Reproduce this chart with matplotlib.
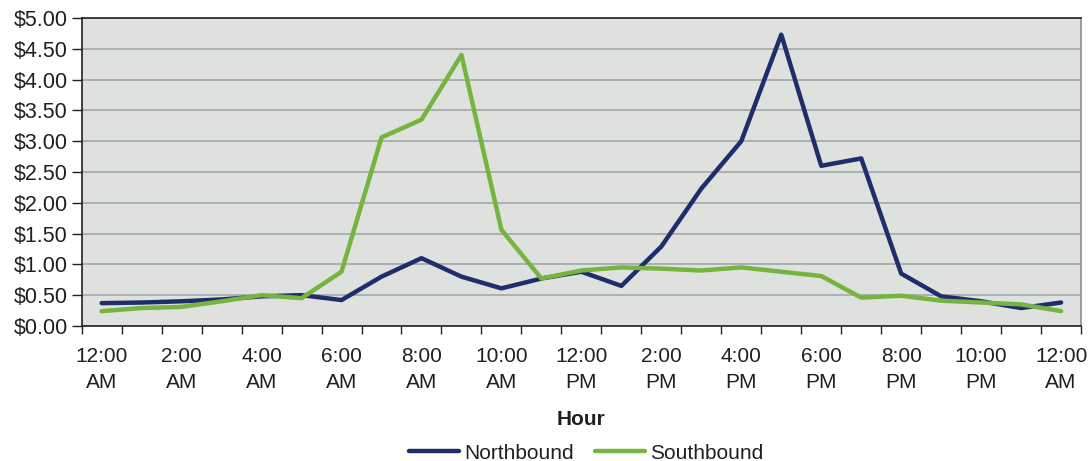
import numpy as np
import matplotlib
matplotlib.use('Agg')
import matplotlib.pyplot as plt
from matplotlib.ticker import FixedLocator

plt.rcParams['font.family'] = ['Liberation Sans', 'DejaVu Sans']

hours = ['12:00\nAM', '2:00\nAM', '4:00\nAM', '6:00\nAM', '8:00\nAM', '10:00\nAM',
         '12:00\nPM', '2:00\nPM', '4:00\nPM', '6:00\nPM', '8:00\nPM', '10:00\nPM',
         '12:00\nAM']

northbound = [0.37, 0.38, 0.40, 0.43, 0.48, 0.50, 0.42, 0.80, 1.10, 0.80, 0.61, 0.77,
              0.88, 0.65, 1.29, 2.23, 3.00, 4.73, 2.60, 2.72, 0.85, 0.48, 0.40, 0.29, 0.38]
southbound = [0.24, 0.29, 0.31, 0.40, 0.50, 0.45, 0.88, 3.06, 3.35, 4.40, 1.56, 0.77,
              0.90, 0.95, 0.93, 0.90, 0.95, 0.88, 0.81, 0.46, 0.49, 0.41, 0.38, 0.35, 0.24]

navy = '#1f2d6b'
green = '#74b43f'
ink = '#231f20'

fig = plt.figure(figsize=(10.92, 4.61), dpi=100)
ax = fig.add_axes([0.0748, 0.293, 0.9152, 0.668])
ax.set_facecolor('#dfe1df')

x = np.arange(len(northbound))
ax.plot(x, northbound, color=navy, lw=3.2, solid_capstyle='round', label='Northbound', zorder=3)
ax.plot(x, southbound, color=green, lw=3.2, solid_capstyle='round', label='Southbound', zorder=3)

ax.set_xlim(-0.5, len(x) - 0.5)
ax.set_ylim(0, 5)

yt = np.arange(0, 5.01, 0.5)
ax.set_yticks(yt)
ax.set_yticklabels([f'${v:.2f}' for v in yt], fontsize=15.5, color=ink)
ax.yaxis.grid(True, color='#a7abae', lw=1.3)
ax.set_axisbelow(True)
ax.tick_params(axis='y', direction='out', length=7, width=1, color=ink, pad=3)

ax.set_xticks(np.arange(0, len(x), 2))
ax.set_xticklabels(hours, fontsize=15, color=ink, linespacing=1.5)
ax.xaxis.set_minor_locator(FixedLocator(np.arange(-0.5, len(x), 1)))
ax.tick_params(axis='x', which='major', length=0, pad=15)
ax.tick_params(axis='x', which='minor', direction='out', length=6, width=1, color=ink)

for side in ['left', 'bottom', 'top']:
    ax.spines[side].set_color(ink)
    ax.spines[side].set_linewidth(1.2)
ax.spines['right'].set_color('#8c8f92')
ax.spines['right'].set_linewidth(1.2)

ax.set_xlabel('Hour', fontsize=15, fontweight='bold', color=ink, labelpad=13)

ax.legend(loc='upper center', bbox_to_anchor=(0.505, -0.355), ncol=2, frameon=False,
          fontsize=15, handlelength=2.4, handletextpad=0.25, columnspacing=1.0,
          labelcolor=ink, borderaxespad=0)

fig.savefig('out.png', dpi=100)
